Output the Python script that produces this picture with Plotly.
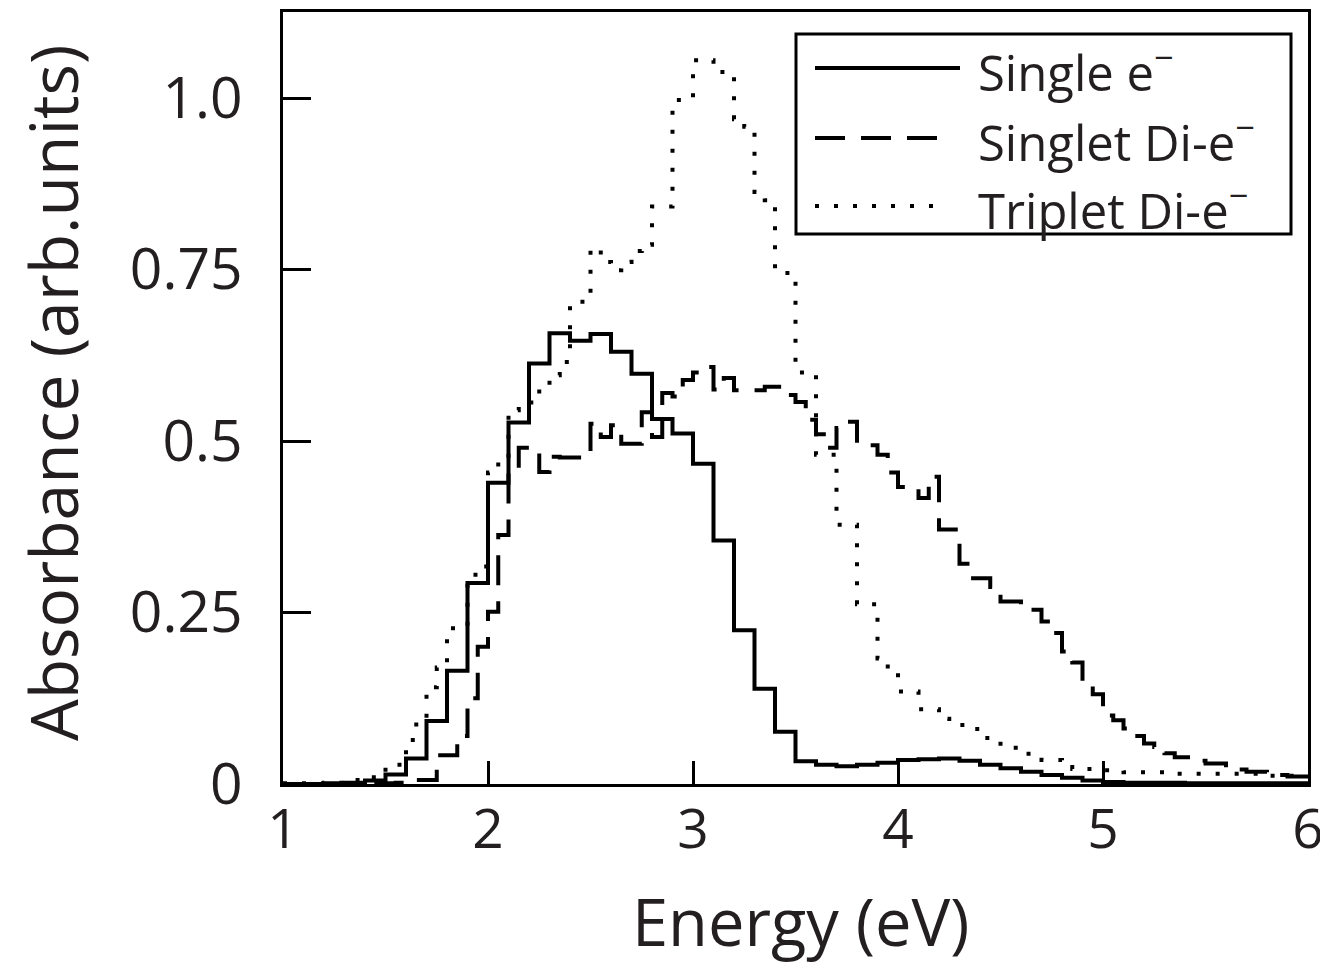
import plotly.graph_objects as go

# ---------------- data ----------------
# Single electron: 0.1 eV bins, left edges 1.0 ... 5.9
single_edges = [round(1.0 + 0.1 * i, 2) for i in range(51)]
single_vals = [0.000, 0.000, 0.001, 0.002, 0.005, 0.014, 0.037, 0.092, 0.165, 0.293,
               0.439, 0.527, 0.613, 0.657, 0.646, 0.656, 0.630, 0.598, 0.532, 0.511,
               0.467, 0.355, 0.224, 0.139, 0.076, 0.033, 0.028, 0.026, 0.028, 0.031,
               0.035, 0.036, 0.037, 0.034, 0.028, 0.023, 0.018, 0.013, 0.009, 0.005,
               0.003, 0.002, 0.002, 0.002, 0.001, 0.001, 0.001, 0.001, 0.001, 0.001]

# Singlet di-electron: bin left edges (irregular) and values
singlet_edges = [1.0, 1.4, 1.55, 1.65, 1.75, 1.85, 1.9, 1.95, 2.0, 2.05, 2.1, 2.15, 2.25,
                 2.3, 2.35, 2.5, 2.55, 2.6, 2.65, 2.75, 2.8, 2.85, 2.9, 2.95, 3.0, 3.05,
                 3.1, 3.15, 3.2, 3.35, 3.45, 3.5, 3.55, 3.6, 3.65, 3.7, 3.75, 3.8, 3.9,
                 3.95, 4.0, 4.1, 4.15, 4.2, 4.3, 4.35, 4.45, 4.5, 4.6, 4.7, 4.75, 4.8,
                 4.85, 4.9, 4.95, 5.0, 5.05, 5.1, 5.15, 5.2, 5.25, 5.3, 5.35, 5.45, 5.5,
                 5.6, 5.65, 5.7, 5.8, 5.9, 6.0]
singlet_vals = [0.000, 0.001, 0.002, 0.006, 0.042, 0.070, 0.125, 0.200, 0.251, 0.363,
                0.461, 0.490, 0.455, 0.477, 0.476, 0.525, 0.506, 0.523, 0.496, 0.542,
                0.506, 0.570, 0.565, 0.589, 0.600, 0.608, 0.575, 0.592, 0.574, 0.579,
                0.567, 0.557, 0.531, 0.510, 0.490, 0.519, 0.528, 0.494, 0.480, 0.454,
                0.433, 0.417, 0.448, 0.371, 0.321, 0.300, 0.287, 0.266, 0.254, 0.237,
                0.220, 0.193, 0.177, 0.144, 0.131, 0.100, 0.093, 0.081, 0.070, 0.059,
                0.054, 0.045, 0.039, 0.034, 0.030, 0.023, 0.021, 0.018, 0.013, 0.011]

# Triplet di-electron: bin left edges (irregular) and values
triplet_edges = [1.0, 1.2, 1.3, 1.4, 1.5, 1.6, 1.65, 1.7, 1.75, 1.8, 1.9, 1.95, 2.0, 2.05,
                 2.1, 2.15, 2.25, 2.3, 2.35, 2.4, 2.5, 2.55, 2.6, 2.65, 2.7, 2.75, 2.8,
                 2.9, 3.0, 3.1, 3.2, 3.25, 3.3, 3.35, 3.4, 3.5, 3.6, 3.7, 3.8, 3.9, 3.95,
                 4.0, 4.1, 4.2, 4.25, 4.35, 4.4, 4.5, 4.6, 4.7, 4.8, 4.85, 5.0, 5.1, 5.3,
                 5.8, 6.0]
triplet_vals = [0.001, 0.002, 0.006, 0.010, 0.028, 0.064, 0.090, 0.141, 0.170, 0.227,
                0.305, 0.317, 0.454, 0.470, 0.545, 0.556, 0.580, 0.596, 0.615, 0.703,
                0.781, 0.761, 0.749, 0.761, 0.777, 0.786, 0.842, 0.997, 1.055, 1.038,
                0.969, 0.958, 0.863, 0.851, 0.745, 0.600, 0.480, 0.378, 0.262, 0.183,
                0.165, 0.135, 0.109, 0.095, 0.086, 0.080, 0.067, 0.053, 0.044, 0.035,
                0.028, 0.022, 0.020, 0.017, 0.015, 0.012]

legend_names = ["Single e<sup>\u2212</sup>", "Singlet Di-e<sup>\u2212</sup>",
                "Triplet Di-e<sup>\u2212</sup>"]
y_tickvals = [0, 0.25, 0.5, 0.75, 1.0]
y_ticktext = ["0", "0.25", "0.5", "0.75", "1.0"]
x_tickvals = [1, 2, 3, 4, 5, 6]

# ---------------- figure ----------------
FONT = "Open Sans"
INK = "#231f20"
OFF = 8                      # page body margin of the html page
W, H = 1320, 958
ML, MR, MT, MB = 275, 20, 4, 182
PW, PH = W - ML - MR, H - MT - MB


def px2paper_x(p):           # p: page pixel (reference coordinates)
    return (p - OFF - ML) / PW


def px2paper_y(p):
    return (H - MB - (p - OFF)) / PH


def step_xy(edges, vals):
    xs = list(edges[:len(vals)]) + [edges[len(vals)]]
    ys = list(vals) + [vals[-1]]
    return xs, ys


dashes = ["solid", "30px,16px", "4px,15px"]
series = [(single_edges, single_vals), (singlet_edges, singlet_vals),
          (triplet_edges, triplet_vals)]

fig = go.Figure()
for (edges, vals), dash, name in zip(series, dashes, legend_names):
    xs, ys = step_xy(edges, vals)
    fig.add_trace(go.Scatter(x=xs, y=ys, mode="lines", line_shape="hv", name=name,
                             line=dict(color="black", width=4, dash=dash),
                             showlegend=False))

# legend drawn manually (long sample lines, boxed)
fig.add_shape(type="rect", xref="paper", yref="paper",
              x0=px2paper_x(796), x1=px2paper_x(1291),
              y0=px2paper_y(234), y1=px2paper_y(34),
              line=dict(color="black", width=3), fillcolor="white", layer="above")
row_y = [68, 138, 206]
line_x1 = [960, 942, 948]
for dash, name, ry, lx1 in zip(dashes, legend_names, row_y, line_x1):
    fig.add_shape(type="line", xref="paper", yref="paper",
                  x0=px2paper_x(815), x1=px2paper_x(lx1),
                  y0=px2paper_y(ry), y1=px2paper_y(ry),
                  line=dict(color="black", width=4, dash=dash), layer="above")
    fig.add_annotation(xref="paper", yref="paper", x=px2paper_x(976),
                       y=px2paper_y(ry + 1), text=name, showarrow=False,
                       xanchor="left", yanchor="middle",
                       font=dict(family=FONT, size=49, color=INK))

# axis titles
fig.add_annotation(xref="paper", yref="paper", x=px2paper_x(800), y=px2paper_y(921),
                   text="Energy (eV)", showarrow=False, xanchor="center",
                   yanchor="middle", font=dict(family=FONT, size=65, color=INK))
fig.add_annotation(xref="paper", yref="paper", x=px2paper_x(52), y=px2paper_y(393),
                   text="Absorbance (arb.units)", showarrow=False, textangle=-90,
                   xanchor="center", yanchor="middle",
                   font=dict(family=FONT, size=66, color=INK))

fig.update_layout(
    width=W, height=H,
    margin=dict(l=ML, r=MR, t=MT, b=MB, autoexpand=False),
    paper_bgcolor="white", plot_bgcolor="white",
    font=dict(family=FONT, color=INK),
    showlegend=False,
)
fig.update_xaxes(range=[1, 6], tickvals=x_tickvals, ticks="inside", ticklen=23,
                 tickwidth=2.5, tickcolor="black", showline=True, linewidth=3,
                 linecolor="black", mirror=True, showgrid=False, zeroline=False,
                 ticklabeloverflow="allow",
                 tickfont=dict(family=FONT, size=55, color=INK), ticklabelstandoff=-5)
fig.update_yaxes(range=[0, 1.1254], tickvals=y_tickvals, ticktext=y_ticktext,
                 ticks="inside", ticklen=28, tickwidth=2.5, tickcolor="black",
                 showline=True, linewidth=3, linecolor="black", mirror=True,
                 showgrid=False, zeroline=False,
                 tickfont=dict(family=FONT, size=57, color=INK), ticklabelstandoff=26)

fig.write_html("out.html")
